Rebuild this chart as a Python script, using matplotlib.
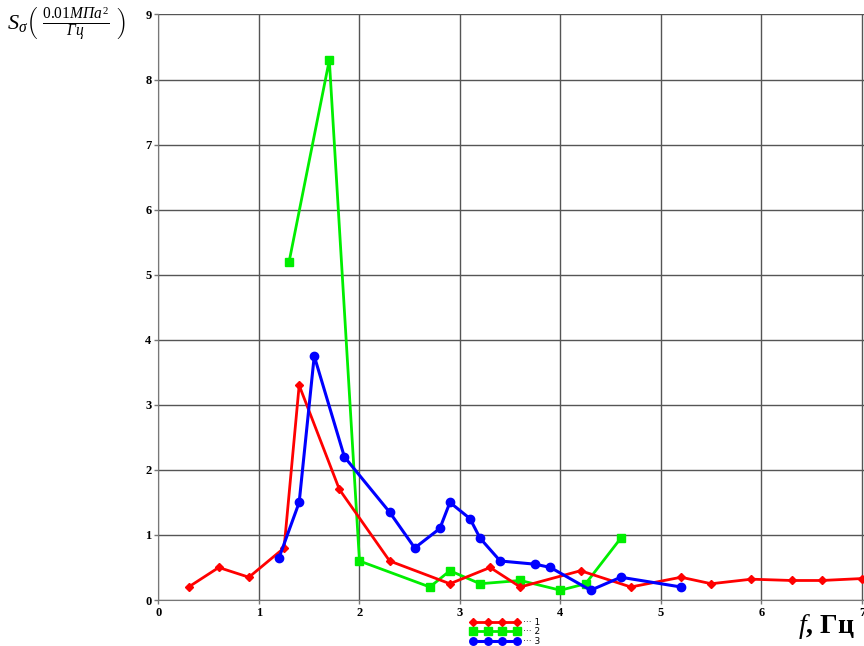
import matplotlib
matplotlib.use("Agg")
import matplotlib.pyplot as plt

# spectral density curves
f1 = [0.3, 0.6, 0.9, 1.25, 1.4, 1.8, 2.3, 2.9, 3.3, 3.6, 4.2, 4.7, 5.2, 5.5, 5.9, 6.3, 6.6, 7.0]
s1 = [0.2, 0.5, 0.35, 0.8, 3.3, 1.7, 0.6, 0.25, 0.5, 0.2, 0.45, 0.2, 0.35, 0.25, 0.32, 0.3, 0.3, 0.33]

f2 = [1.3, 1.7, 2.0, 2.7, 2.9, 3.2, 3.6, 4.0, 4.25, 4.6]
s2 = [5.2, 8.3, 0.6, 0.2, 0.45, 0.25, 0.3, 0.15, 0.25, 0.95]

f3 = [1.2, 1.4, 1.55, 1.85, 2.3, 2.55, 2.8, 2.9, 3.1, 3.2, 3.4, 3.75, 3.9, 4.3, 4.6, 5.2]
s3 = [0.65, 1.5, 3.75, 2.2, 1.35, 0.8, 1.1, 1.5, 1.25, 0.95, 0.6, 0.55, 0.5, 0.15, 0.35, 0.2]

labels = ["··· 1", "··· 2", "··· 3"]

plt.rcParams['mathtext.fontset'] = 'custom'
plt.rcParams['mathtext.rm'] = 'Liberation Serif'
plt.rcParams['mathtext.it'] = 'Liberation Serif:italic'
plt.rcParams['mathtext.bf'] = 'Liberation Serif:bold'

fig = plt.figure(figsize=(8.64, 6.46), dpi=100)
ax = fig.add_axes([0.1834, 0.0712, 0.8166, 0.9064])

ax.plot(f2, s2, color='#00ee00', lw=2, marker='s', ms=6, label=labels[1], zorder=3)
ax.plot(f1, s1, color='#ff0000', lw=2, marker='D', ms=4, label=labels[0], zorder=4)
ax.plot(f3, s3, color='#0000ff', lw=2.2, marker='o', ms=6, label=labels[2], zorder=5)

ax.set_xlim(0, 7.02)
ax.set_ylim(0, 9)
ax.set_xticks(range(0, 8))
ax.set_yticks(range(0, 10))
ax.grid(True, color='#555555', lw=1)
for s in ['top', 'right']:
    ax.spines[s].set_visible(False)
for s in ['left', 'bottom']:
    ax.spines[s].set_color('#777777')
ax.tick_params(length=3, width=1, color='#777777', labelsize=9, pad=2)
for t in ax.get_xticklabels() + ax.get_yticklabels():
    t.set_fontfamily('Liberation Serif')
    t.set_fontweight('bold')

fig.text(0.008, 0.962,
         r'$S_\sigma\left(\ \frac{0.01\mathit{МПа}^2}{\mathit{Гц}}\ \right)$',
         fontsize=16, ha='left', va='center')
fig.text(0.924, 0.03, r'$\mathbf{\mathit{f}}$' + ', Гц', fontsize=20,
         family='Liberation Serif', fontweight='bold', ha='left', va='center')

h, l = ax.get_legend_handles_labels()
order = [1, 0, 2]
fig.legend([h[i] for i in order], [l[i] for i in order], loc='center',
           bbox_to_anchor=(0.585, 0.022), frameon=False, numpoints=4,
           handlelength=5.5, fontsize=6.5, labelspacing=0.05, handletextpad=0.4,
           borderpad=0, markerscale=0.9)

fig.savefig('out.png', dpi=100)
